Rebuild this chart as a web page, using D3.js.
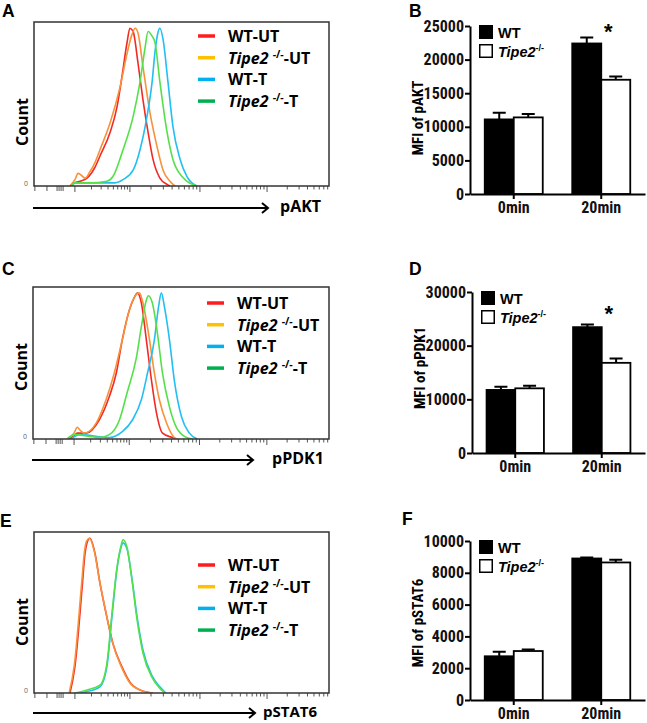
<!DOCTYPE html>
<html><head><meta charset="utf-8">
<script src="https://cdn.jsdelivr.net/npm/d3@7"></script>
<style>body{margin:0;background:#fff}svg{display:block}</style>
</head><body>
<svg id="fig" width="647" height="723"></svg>
<script>
// ---------- histogram data: [channel, % of max count] ----------
const aktWtUt = [[125,0],[142,2],[160,3],[184,5],[212,12],[229,19],[264,34],[288,50],[305,69],[323,91],[333,100],[344,98],[361,78],[378,55],[396,34],[413,17],[437,5],[462,1],[472,0]];
const aktKoUt = [[125,0],[142,4],[153,8],[163,7],[177,5],[194,9],[212,15],[229,23],[264,40],[299,63],[323,84],[340,96],[351,100],[361,97],[378,76],[403,46],[427,25],[448,10],[472,3],[489,0]];
const aktWtT  = [[132,0],[142,2],[229,2],[281,2],[309,4],[344,10],[368,23],[392,44],[410,66],[420,85],[430,97],[437,100],[448,93],[465,66],[482,38],[507,17],[531,6],[566,0]];
const aktKoT  = [[132,0],[142,2],[194,2],[253,3],[274,6],[309,23],[344,44],[368,66],[385,87],[396,98],[410,95],[420,91],[437,66],[462,34],[482,17],[514,6],[566,0]];

const pdkWtUt = [[118,0],[142,2],[153,4],[184,4],[229,13],[264,29],[288,45],[309,68],[333,88],[351,97],[361,100],[375,93],[392,68],[410,40],[427,18],[448,4],[482,1],[496,0]];
const pdkKoUt = [[118,0],[142,4],[153,8],[163,6],[177,4],[219,11],[253,27],[281,45],[309,68],[333,88],[358,99],[368,100],[378,95],[403,68],[420,45],[437,27],[462,11],[489,1],[500,0]];
const pdkWtT  = [[132,0],[160,3],[264,1],[309,5],[344,13],[375,27],[396,45],[420,68],[434,90],[444,100],[455,90],[472,68],[489,40],[514,15],[541,4],[569,0]];
const pdkKoT  = [[118,0],[142,3],[229,1],[264,3],[299,13],[326,32],[358,56],[375,77],[392,95],[399,98],[413,93],[430,73],[448,45],[472,22],[496,8],[531,1],[552,0]];

const statWtUt = [[125,0],[142,17],[167,68],[177,90],[184,97],[194,100],[212,90],[229,71],[253,49],[274,32],[305,17],[333,7],[368,2],[413,0]];
const statKoUt = [[122,0],[140,18],[165,70],[175,91],[182,98],[192,100],[210,91],[227,73],[251,51],[272,33],[303,17],[331,7],[366,2],[410,0]];
const statWtT  = [[145,0],[184,1],[229,4],[253,17],[271,50],[288,80],[302,94],[309,97],[323,93],[340,74],[358,49],[378,28],[410,11],[437,4],[458,0]];
const statKoT  = [[142,0],[184,2],[229,5],[253,19],[271,52],[288,81],[302,95],[309,99],[323,94],[340,73],[358,47],[378,26],[410,10],[437,3],[455,0]];

const histLegendBase = ["WT", "Tipe2", "WT", "Tipe2"];
const histLegendSuffix = ["-UT", "-UT", "-T", "-T"];
const histMarkers = ["pAKT", "pPDK1", "pSTAT6"];
const histDecades = [142, 333, 576, 809];
const histLowTicks = [3, 45, 80, 87, 94, 101];
const histChannelMax = 1024;

// ---------- bar chart data ----------
const barCategories = ["0min", "20min"];
const barGenotypes = ["WT", "Tipe2"];
const aktWT = [11100, 22400];   const aktWTerr = [1000, 900];
const aktKO = [11400, 17000];   const aktKOerr = [500, 500];
const pdkWT = [11750, 23450];   const pdkWTerr = [600, 500];
const pdkKO = [12050, 16800];   const pdkKOerr = [500, 800];
const statWT = [2750, 8900];    const statWTerr = [280, 60];
const statKO = [3080, 8650];    const statKOerr = [100, 170];
const aktTicks = [0, 5000, 10000, 15000, 20000, 25000];
const pdkTicks = [0, 10000, 20000, 30000];
const statTicks = [0, 2000, 4000, 6000, 8000, 10000];
const barSignificant = [[false, true], [false, true], [false, false]];

// ---------- styles ----------
const curveColors = ["#f22a26", "#f7923a", "#22bff2", "#55e04a"];
const legendColors = ["#ff1c1c", "#ffc000", "#00b0f0", "#00b050"];
const histFont = "'Open Sans', sans-serif";
const barFont = "'Liberation Sans', Arial, sans-serif";
const narrowFont = "'Liberation Sans Narrow', 'Arial Narrow', 'Roboto Condensed', 'Liberation Sans', sans-serif";

const svg = d3.select("#fig");

function panelLetter(t, x, y) {
  svg.append("text").attr("x", x).attr("y", y).text(t)
    .attr("font-family", barFont).attr("font-weight", "bold").attr("font-size", 17.5);
}

function drawHist(o) {
  const g = svg.append("g");
  const x = d3.scaleLinear().domain([0, histChannelMax]).range([o.left, o.right]);
  const y = d3.scaleLinear().domain([0, 104]).range([o.bottom, o.top]);
  const clipId = "clip" + o.id;
  g.append("clipPath").attr("id", clipId).append("rect")
    .attr("x", o.left).attr("y", o.top).attr("width", o.right - o.left).attr("height", o.bottom - o.top);
  // ticks
  const decs = histDecades.concat([histDecades[3] + (histDecades[3] - histDecades[2])]);
  const minor = [];
  for (let i = 0; i < 4; i++) for (let k = 2; k <= 9; k++) {
    const c = decs[i] + (decs[i + 1] - decs[i]) * Math.log10(k);
    if (c < histChannelMax) minor.push(c);
  }
  const tk = g.append("g").attr("stroke", "#555").attr("stroke-width", 1);
  const ticks = minor.map(c => ({c, len: 3.5}))
    .concat(histLowTicks.map(c => ({c, len: 5})))
    .concat(histDecades.map(c => ({c, len: 6})));
  tk.selectAll("line").data(ticks).join("line")
    .attr("x1", d => x(d.c)).attr("x2", d => x(d.c)).attr("y1", o.bottom).attr("y2", d => o.bottom + d.len);
  // curves
  const line = d3.line().x(d => x(d[0])).y(d => y(d[1])).curve(d3.curveMonotoneX);
  const cg = g.append("g").attr("clip-path", `url(#${clipId})`);
  o.curves.forEach((c, i) => {
    cg.append("path").attr("d", line(c)).attr("fill", "none")
      .attr("stroke", curveColors[i]).attr("stroke-width", 1.6).attr("stroke-linejoin", "round");
  });
  // frame
  g.append("rect").attr("x", o.left).attr("y", o.top).attr("width", o.right - o.left).attr("height", o.bottom - o.top)
    .attr("fill", "none").attr("stroke", "#333").attr("stroke-width", 1.5);
  // zero label
  g.append("text").attr("x", o.left - 10).attr("y", o.bottom).text("0")
    .attr("font-family", histFont).attr("font-size", 7).attr("fill", "#666");
  // Count label
  g.append("text").attr("transform", `translate(${o.left - 6},${o.countY}) rotate(-90)`)
    .attr("text-anchor", "middle").text("Count")
    .attr("font-family", histFont).attr("font-weight", "bold").attr("font-size", 16);
  // legend
  histLegendBase.forEach((b, i) => {
    const ly = o.legY + i * 21.7;
    g.append("line").attr("x1", o.legX).attr("x2", o.legX + 17).attr("y1", ly).attr("y2", ly)
      .attr("stroke", legendColors[i]).attr("stroke-width", 3.5);
    const t = g.append("text").attr("x", o.legX + 30).attr("y", ly + 6)
      .attr("font-family", histFont).attr("font-weight", "bold").attr("font-size", 16);
    if (b === "Tipe2") {
      t.append("tspan").attr("font-style", "italic").text("Tipe2 ");
      t.append("tspan").attr("font-size", 10.5).attr("dy", -6).text("-/-");
      t.append("tspan").attr("dy", 6).text(histLegendSuffix[i]);
    } else {
      t.append("tspan").text(b + histLegendSuffix[i]);
    }
  });
  // arrow
  g.append("line").attr("x1", o.left - 1).attr("x2", o.arrowEnd).attr("y1", o.arrowY).attr("y2", o.arrowY)
    .attr("stroke", "#000").attr("stroke-width", 2);
  g.append("path").attr("d", `M${o.arrowEnd - 6},${o.arrowY - 5}L${o.arrowEnd},${o.arrowY}L${o.arrowEnd - 6},${o.arrowY + 5}`)
    .attr("fill", "none").attr("stroke", "#000").attr("stroke-width", 2);
  g.append("text").attr("x", o.markerX).attr("y", o.arrowY + 4).text(o.marker)
    .attr("font-family", histFont).attr("font-weight", "bold").attr("font-size", o.markerSize || 16);
}

function drawBars(o) {
  const g = svg.append("g").attr("font-family", barFont);
  const y = d3.scaleLinear().domain([0, o.ticks[o.ticks.length - 1]]).range([o.y0, o.yTop]);
  const xb = d3.scaleBand().domain(barCategories).range([o.x0, o.x1]).paddingInner(0.337).paddingOuter(0.1685);
  const xs = d3.scaleBand().domain(barGenotypes).range([0, xb.bandwidth()]);
  const series = [o.wt, o.ko], errs = [o.wtErr, o.koErr];
  barGenotypes.forEach((gt, gi) => {
    const rows = barCategories.map((c, ci) => ({c, v: series[gi][ci], e: errs[gi][ci]}));
    g.selectAll(".bar" + gi).data(rows).join("rect")
      .attr("x", d => xb(d.c) + xs(gt)).attr("width", xs.bandwidth())
      .attr("y", d => y(d.v)).attr("height", d => y(0) - y(d.v))
      .attr("fill", gi === 0 ? "#000" : "#fff").attr("stroke", "#000").attr("stroke-width", 1.8);
    g.selectAll(".err" + gi).data(rows).join("path")
      .attr("d", d => {
        const cx = xb(d.c) + xs(gt) + xs.bandwidth() / 2;
        return `M${cx},${y(d.v)}V${y(d.v + d.e)}M${cx - 6.5},${y(d.v + d.e)}H${cx + 6.5}`;
      })
      .attr("fill", "none").attr("stroke", "#000").attr("stroke-width", 2);
  });
  // y axis
  const ya = g.append("g").attr("transform", `translate(${o.x0},0)`)
    .call(d3.axisLeft(y).tickValues(o.ticks).tickSize(5).tickSizeOuter(0).tickFormat(d3.format("d")));
  ya.select(".domain").attr("stroke-width", 2);
  ya.selectAll(".tick line").attr("stroke-width", 2);
  ya.selectAll(".tick text").attr("font-family", narrowFont).attr("font-weight", "bold").attr("font-size", 16).attr("x", -6).attr("fill", "#111");
  // x axis
  const xa = g.append("g").attr("transform", `translate(0,${o.y0})`)
    .call(d3.axisBottom(xb).tickSize(5).tickSizeOuter(0));
  xa.select(".domain").attr("stroke-width", 2);
  xa.selectAll(".tick line").attr("stroke-width", 2);
  xa.selectAll(".tick text").attr("font-family", narrowFont).attr("font-weight", "bold").attr("font-size", 16).attr("y", 8).attr("fill", "#111");
  // y label
  g.append("text").attr("transform", `translate(${o.labelX},${o.labelY}) rotate(-90)`)
    .attr("text-anchor", "middle").attr("font-family", narrowFont).attr("font-weight", "bold").attr("font-size", 15).text(o.label);
  // significance
  barCategories.forEach((c, ci) => {
    if (o.sig[ci]) {
      g.append("text").attr("x", xb(c) + xb.bandwidth() / 2 + 7).attr("y", o.starY)
        .attr("text-anchor", "middle").attr("font-weight", "bold").attr("font-size", 22).text("*");
    }
  });
  // legend
  const lx = o.x0 + 9, ly = o.yTop - 1;
  g.append("rect").attr("x", lx).attr("y", ly).attr("width", 14).attr("height", 14).attr("fill", "#000");
  g.append("rect").attr("x", lx + 0.75).attr("y", ly + 19.75).attr("width", 12.5).attr("height", 12.5)
    .attr("fill", "#fff").attr("stroke", "#000").attr("stroke-width", 1.5);
  g.append("text").attr("x", lx + 19).attr("y", ly + 13).attr("font-weight", "bold").attr("font-size", 14.5).text(barGenotypes[0]);
  const t2 = g.append("text").attr("x", lx + 19).attr("y", ly + 32).attr("font-weight", "bold").attr("font-size", 14.5);
  t2.append("tspan").attr("font-style", "italic").text(barGenotypes[1]);
  t2.append("tspan").attr("font-size", 9).attr("dy", -6).text("-/-");
}

panelLetter("A", 2, 17);
panelLetter("B", 409, 17);
panelLetter("C", 2, 275);
panelLetter("D", 409, 275);
panelLetter("E", 0, 527);
panelLetter("F", 402, 525);

drawHist({id: "a", left: 34, right: 329, top: 22, bottom: 186, curves: [aktWtUt, aktKoUt, aktWtT, aktKoT],
  legX: 198, legY: 36, countY: 122, arrowY: 208, arrowEnd: 268, markerX: 280, marker: histMarkers[0]});
drawHist({id: "c", left: 33, right: 329, top: 287, bottom: 439, curves: [pdkWtUt, pdkKoUt, pdkWtT, pdkKoT],
  legX: 207, legY: 303, countY: 367, arrowY: 460, arrowEnd: 253, markerX: 272, marker: histMarkers[1]});
drawHist({id: "e", left: 34, right: 329, top: 532, bottom: 693, curves: [statWtUt, statKoUt, statWtT, statKoT],
  legX: 198, legY: 565, countY: 622, arrowY: 713, arrowEnd: 255, markerX: 263, marker: histMarkers[2], markerSize: 15});

drawBars({x0: 470, x1: 645, y0: 194, yTop: 26, ticks: aktTicks, wt: aktWT, ko: aktKO, wtErr: aktWTerr, koErr: aktKOerr,
  label: "MFI of pAKT", labelX: 423, labelY: 118, sig: barSignificant[0], starY: 39});
drawBars({x0: 472, x1: 645, y0: 453, yTop: 292, ticks: pdkTicks, wt: pdkWT, ko: pdkKO, wtErr: pdkWTerr, koErr: pdkKOerr,
  label: "MFI of pPDK1", labelX: 425, labelY: 368, sig: barSignificant[1], starY: 321});
drawBars({x0: 470, x1: 645, y0: 700, yTop: 541, ticks: statTicks, wt: statWT, ko: statKO, wtErr: statWTerr, koErr: statKOerr,
  label: "MFI of pSTAT6", labelX: 423, labelY: 623, sig: barSignificant[2], starY: 0});
</script>
</body></html>
